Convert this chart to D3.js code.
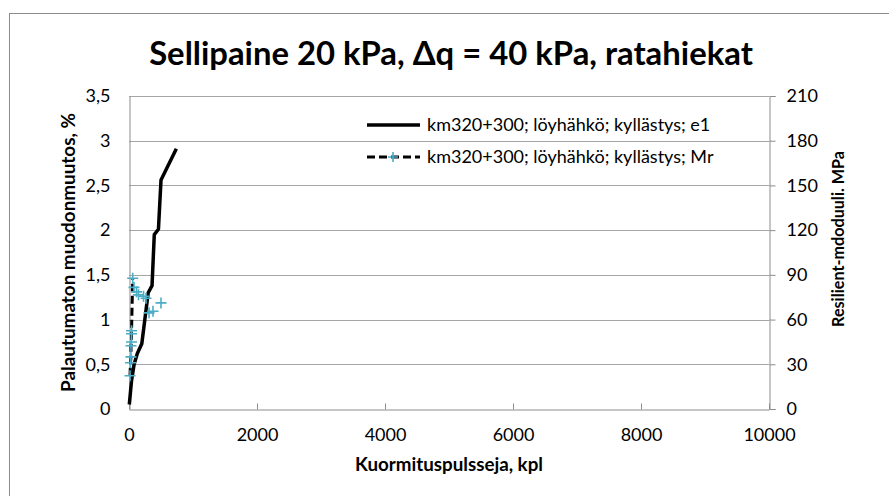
<!DOCTYPE html>
<html>
<head>
<meta charset="utf-8">
<script src="https://cdn.jsdelivr.net/npm/d3@7"></script>
<style>
  html, body { margin: 0; padding: 0; background: #fff; }
  svg { display: block; font-family: Lato, "Open Sans", sans-serif; }
</style>
</head>
<body>
<svg id="chart" width="889" height="496"></svg>
<script>
// Load pulses (x), permanent strain e1 (left axis, %) and resilient modulus Mr (right axis, MPa)
const e1Pulses = [5, 40, 80, 130, 200, 300, 360, 395, 460, 500, 740];
const e1Values = [0.05, 0.32, 0.50, 0.62, 0.73, 1.30, 1.38, 1.95, 2.01, 2.56, 2.91];

// Mr readings joined by the dashed line
const mrLinePulses = [16, 23, 31, 31, 39, 39, 40, 58];
const mrLineValues = [22.3, 31, 35, 42.4, 45, 50.5, 52.5, 87.7];
// later Mr readings, shown as markers only
const mrPointPulses = [78, 117, 148, 227, 266, 313, 375, 500];
const mrPointValues = [81.6, 78.6, 76.6, 75.6, 74.3, 64.5, 65.6, 71.2];

const xTicks = [0, 2000, 4000, 6000, 8000, 10000];
const yLeftTicks = [0, 0.5, 1, 1.5, 2, 2.5, 3, 3.5];
const yRightTicks = [0, 30, 60, 90, 120, 150, 180, 210];

const titleText = "Sellipaine 20 kPa, \u0394q = 40 kPa, ratahiekat";
const xTitle = "Kuormituspulsseja, kpl";
const yLeftTitle = "Palautumaton muodonmuutos, %";
const yRightTitle = "Resilient-mdoduuli. MPa";
const seriesNames = ["km320+300; löyhähkö; kyllästys; e1", "km320+300; löyhähkö; kyllästys; Mr"];

const svg = d3.select("#chart");
const plot = { left: 129, right: 769, top: 96, bottom: 409 };
const markerColor = "#4bacc6";
const gridColor = "#a6a6a6";
const axisColor = "#8c8c8c";
const tickFont = 18;

const fmt = d => String(d).replace(".", ",");

// shrink or grow a text's font so that it spans the given width
function fitWidth(sel, width, base) {
  sel.attr("font-size", base);
  const w = sel.node().getComputedTextLength();
  sel.attr("font-size", (base * width / w).toFixed(2));
  return sel;
}

const x = d3.scaleLinear().domain([0, 10000]).range([plot.left, plot.right]);
const yL = d3.scaleLinear().domain([0, 3.5]).range([plot.bottom, plot.top]);
const yR = d3.scaleLinear().domain([0, 210]).range([plot.bottom, plot.top]);

// chart area frame
svg.append("rect")
  .attr("x", 9.5).attr("y", 13.5).attr("width", 950).attr("height", 550)
  .attr("fill", "none").attr("stroke", "#8c8c8c").attr("stroke-width", 1);

// horizontal gridlines
svg.append("g").selectAll("line").data(yLeftTicks.slice(1)).join("line")
  .attr("x1", plot.left).attr("x2", plot.right)
  .attr("y1", d => Math.round(yL(d)) + 0.5).attr("y2", d => Math.round(yL(d)) + 0.5)
  .attr("stroke", gridColor).attr("stroke-width", 1);

// left axis
const gL = svg.append("g").attr("transform", `translate(${plot.left + 0.5},0)`)
  .call(d3.axisLeft(yL).tickValues(yLeftTicks).tickFormat(fmt).tickSize(0).tickPadding(19));
gL.select(".domain").attr("stroke", axisColor);
gL.selectAll("text").attr("font-size", tickFont).attr("fill", "#000").attr("font-family", "Lato, sans-serif");

// right axis
const gR = svg.append("g").attr("transform", `translate(${plot.right + 0.5},0)`)
  .call(d3.axisRight(yR).tickValues(yRightTicks).tickSize(6).tickPadding(11));
gR.select(".domain").attr("stroke", axisColor);
gR.selectAll("line").attr("stroke", axisColor);
gR.selectAll("text").attr("font-size", tickFont).attr("fill", "#000").attr("font-family", "Lato, sans-serif");

// bottom axis (ticks pointing into the plot)
const gX = svg.append("g").attr("transform", `translate(0,${plot.bottom + 0.5})`)
  .call(d3.axisBottom(x).tickValues(xTicks).tickFormat(d3.format("d")).tickSizeInner(-6).tickSizeOuter(0).tickPadding(19));
gX.select(".domain").attr("stroke", axisColor);
gX.selectAll("line").attr("stroke", axisColor);
gX.selectAll("text").attr("font-size", tickFont).attr("fill", "#000").attr("font-family", "Lato, sans-serif");

// e1 series: solid black line
const e1Data = e1Pulses.map((p, i) => ({ x: p, y: e1Values[i] }));
svg.append("path").datum(e1Data)
  .attr("d", d3.line().x(d => x(d.x)).y(d => yL(d.y)))
  .attr("fill", "none").attr("stroke", "#000").attr("stroke-width", 3.5)
  .attr("stroke-linejoin", "round");

// Mr series: dashed black line with plus markers
const mrLine = mrLinePulses.map((p, i) => ({ x: p, y: mrLineValues[i] }));
const mrPoints = mrPointPulses.map((p, i) => ({ x: p, y: mrPointValues[i] }));
svg.append("path").datum(mrLine)
  .attr("d", d3.line().x(d => x(d.x)).y(d => yR(d.y)))
  .attr("fill", "none").attr("stroke", "#000").attr("stroke-width", 3)
  .attr("stroke-dasharray", "8,4");

const plusPath = (cx, cy, s) => `M${cx - s},${cy}H${cx + s}M${cx},${cy - s}V${cy + s}`;
svg.append("g").selectAll("path").data(mrLine.concat(mrPoints)).join("path")
  .attr("d", d => plusPath(x(d.x), yR(d.y), 5.5))
  .attr("stroke", markerColor).attr("stroke-width", 1.6).attr("fill", "none");

// title
fitWidth(svg.append("text").attr("x", 451).attr("y", 65).attr("text-anchor", "middle")
  .attr("font-weight", "bold").attr("fill", "#000").text(titleText), 604, 30);

// axis titles
fitWidth(svg.append("text").attr("x", x(5000)).attr("y", 471).attr("text-anchor", "middle")
  .attr("font-weight", "bold").text(xTitle), 188, 18);

fitWidth(svg.append("text").attr("transform", `translate(75,${(plot.top + plot.bottom) / 2}) rotate(-90)`)
  .attr("text-anchor", "middle").attr("font-weight", "bold").text(yLeftTitle), 279, 18);

fitWidth(svg.append("text").attr("transform", `translate(844,239) rotate(-90)`)
  .attr("text-anchor", "middle").attr("font-weight", "bold").text(yRightTitle), 176, 18);

// legend
const legend = svg.append("g");
const legendRows = [125, 157];
legend.append("line").attr("x1", 367).attr("x2", 420).attr("y1", legendRows[0]).attr("y2", legendRows[0])
  .attr("stroke", "#000").attr("stroke-width", 3.5);
legend.append("line").attr("x1", 367).attr("x2", 420).attr("y1", legendRows[1]).attr("y2", legendRows[1])
  .attr("stroke", "#000").attr("stroke-width", 3).attr("stroke-dasharray", "8,4");
legend.append("path").attr("d", plusPath(393, legendRows[1], 5))
  .attr("stroke", markerColor).attr("stroke-width", 1.6);
legend.selectAll("text").data(seriesNames).join("text")
  .attr("x", 427).attr("y", (d, i) => legendRows[i] + 6)
  .attr("font-size", 18).attr("fill", "#000").text(d => d);
</script>
</body>
</html>
